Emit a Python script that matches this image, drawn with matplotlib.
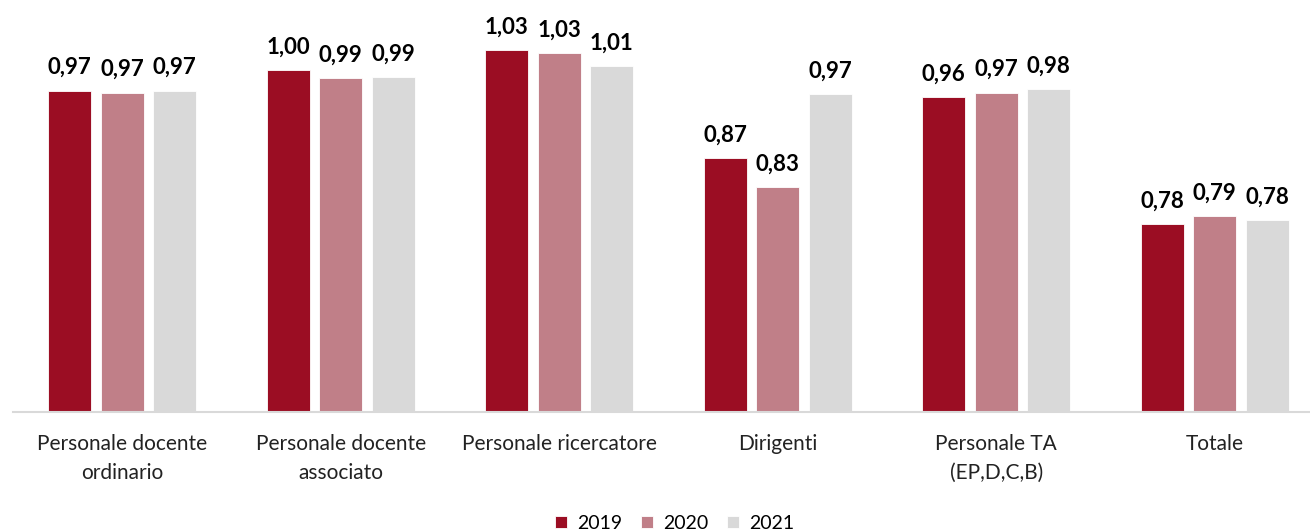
import numpy as np
import matplotlib.pyplot as plt

categorie = ["Personale docente\nordinario", "Personale docente\nassociato",
             "Personale ricercatore", "Dirigenti", "Personale TA\n(EP,D,C,B)", "Totale"]
anni = ["2019", "2020", "2021"]
v2019 = [0.974, 1.004, 1.034, 0.874, 0.964, 0.777]
v2020 = [0.971, 0.992, 1.029, 0.831, 0.971, 0.789]
v2021 = [0.974, 0.994, 1.010, 0.969, 0.976, 0.783]
colori = ["#9B0D23", "#C07F88", "#D9D9D9"]

plt.rcParams['font.family'] = ['Lato', 'DejaVu Sans']

fig = plt.figure(figsize=(13.1, 5.31), dpi=100)
ax = fig.add_axes([13/1310, 0.225, 1297/1310, 0.765])

x = np.arange(len(categorie))
larg = 0.197
passo = 0.24
for i, (serie, col, anno) in enumerate(zip([v2019, v2020, v2021], colori, anni)):
    barre = ax.bar(x + (i - 1) * passo, serie, larg, bottom=0, color=col,
                   edgecolor="white", linewidth=0.6, label=anno)
    for b, v in zip(barre, serie):
        ax.annotate(f"{v:.2f}".replace(".", ","), (b.get_x() + b.get_width() / 2, v),
                    xytext=(0, 9), textcoords="offset points", ha="center", va="bottom",
                    fontsize=16, fontweight="bold", color="black")

ax.set_ylim(0.5, 1.1)
ax.set_xlim(-0.5, 5.436)
ax.set_xticks(x)
ax.set_xticklabels(categorie, fontsize=15, color="#222222", linespacing=1.6)
ax.tick_params(axis="x", length=0, pad=16)
ax.set_yticks([])
for s in ["top", "right", "left"]:
    ax.spines[s].set_visible(False)
ax.spines["bottom"].set_color("#D9D9D9")
ax.spines["bottom"].set_linewidth(1.5)

fig.legend(loc="lower center", bbox_to_anchor=(0.515, -0.035), ncol=3, frameon=False,
           fontsize=14, handlelength=0.6, handleheight=0.6, handletextpad=0.5,
           columnspacing=1.0)

fig.savefig("out.png", dpi=100)
